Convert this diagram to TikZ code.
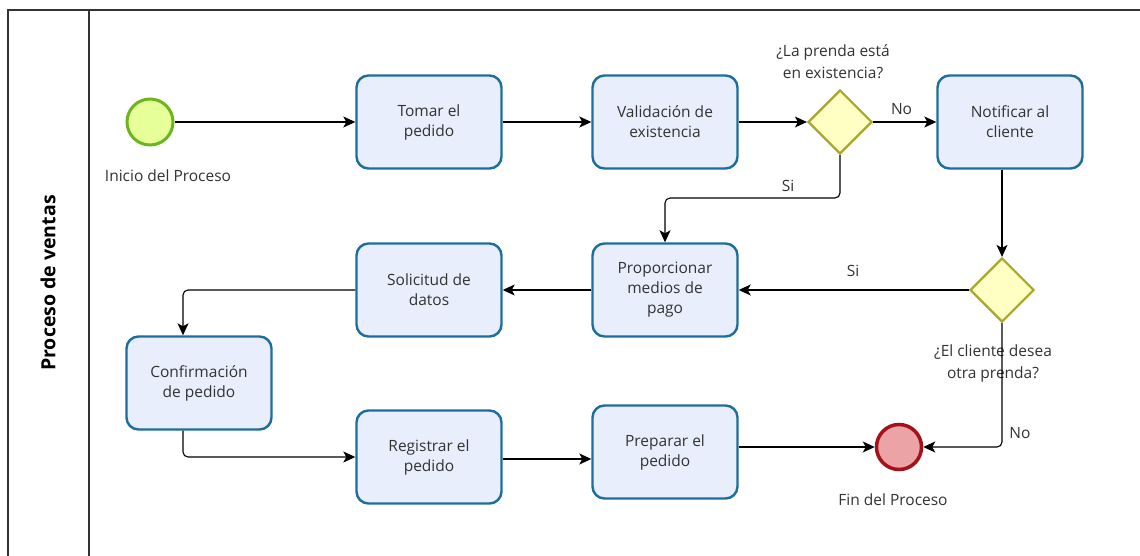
\documentclass[tikz,border=0pt]{standalone}
\usepackage{fontspec}
\setmainfont{Open Sans}
\usetikzlibrary{arrows.meta,shapes.geometric}
\definecolor{taskborder}{HTML}{1D6E9E}
\definecolor{taskfill}{HTML}{E8EEFB}
\definecolor{txt}{HTML}{333333}
\definecolor{startfill}{HTML}{E6FF99}
\definecolor{startborder}{HTML}{6DB51F}
\definecolor{endfill}{HTML}{EBA3A6}
\definecolor{endborder}{HTML}{A5111A}
\definecolor{gwfill}{HTML}{FFFFC4}
\definecolor{gwborder}{HTML}{A8A72C}
\definecolor{framecol}{HTML}{333333}
\begin{document}
\begin{tikzpicture}[x=1pt,y=-1pt,
  task/.style={draw=taskborder, line width=2.4pt, fill=taskfill, rounded corners=12pt,
    minimum width=145pt, minimum height=93pt, align=center, text=txt,
    font=\fontsize{15.5}{20}\selectfont, inner sep=0pt},
  gate/.style={diamond, draw=gwborder, line width=2.2pt, fill=gwfill, minimum width=64pt,
    minimum height=64pt, inner sep=0pt},
  evstart/.style={circle, draw=startborder, line width=3pt, fill=startfill, minimum size=46pt, inner sep=0pt},
  evend/.style={circle, draw=endborder, line width=3.5pt, fill=endfill, minimum size=45pt, inner sep=0pt},
  lbl/.style={text=txt, font=\fontsize{15.5}{22}\selectfont, align=center, inner sep=0pt},
  flow/.style={draw=black, line width=1.1pt, -{Stealth[length=12pt,width=11pt,inset=3pt]}, rounded corners=5pt},
  frame/.style={draw=framecol, line width=1.3pt}
]
\useasboundingbox (0,0) rectangle (1140,556);
\fill[white] (0,0) rectangle (1140,556);
% frame
\draw[frame] (8,556) -- (8,10) -- (1140,10);
\draw[frame] (89,10) -- (89,556);
\node[rotate=90, text=black, font=\fontsize{19.5}{22}\bfseries\selectfont] (lane) at (48,283) {Proceso de ventas};

% nodes
\node[evstart] (start) at (150,122) {};
\node[lbl] (startlbl) at (168,176) {Inicio del Proceso};
\node[task] (tomar) at (429,122) {Tomar el\\pedido};
\node[task] (valid) at (665,122) {Validación de\\existencia};
\node[gate] (d1) at (840,122) {};
\node[lbl] (d1lbl) at (833,62) {¿La prenda está\\en existencia?};
\node[task] (notif) at (1010,122) {Notificar al\\cliente};
\node[gate] (d2) at (1002,290) {};
\node[lbl] (d2lbl) at (993,363) {¿El cliente desea\\otra prenda?};
\node[task] (prop) at (665,290) {Proporcionar\\medios de\\pago};
\node[task] (sol) at (429,290) {Solicitud de\\datos};
\node[task] (conf) at (199,383) {Confirmación\\de pedido};
\node[task] (reg) at (429,457) {Registrar el\\pedido};
\node[task] (prep) at (665,452) {Preparar el\\pedido};
\node[evend] (fin) at (899,447) {};
\node[lbl] (finlbl) at (893,500) {Fin del Proceso};

% helper coordinates
\coordinate (k1) at (840,198);
\coordinate (k2) at (183,290);
\coordinate (k3) at (183,457);

% connectors
\draw[flow] (start) -- (tomar);
\draw[flow] (tomar) -- (valid);
\draw[flow] (valid) -- (d1);
\draw[flow] (d1) -- node[lbl, above=7pt, pos=0.45] (no1) {No} (notif);
\draw[flow] (notif.south -| d2.north) -- (d2.north);
\draw[flow] (d1.south) -- (k1) -- (k1 -| prop.north) -- (prop.north);
\node[lbl] (si1) at (788,186) {Si};
\draw[flow] (d2.west) -- (prop.east);
\node[lbl] (si2) at (853,271) {Si};
\draw[flow] (prop.west) -- (sol.east);
\draw[flow] (sol.west) -- (k2) -- (k2 |- conf.north);
\draw[flow] (k2 |- conf.south) -- (k3) -- (reg.west);
\draw[flow] ([yshift=-2pt]reg.east) -- ([yshift=-2pt]reg.east -| prep.west);
\draw[flow] (prep.east |- fin) -- (fin.west);
\draw[flow] (d2.south) -- (d2.south |- fin) -- (fin.east);
\node[lbl] (no2) at (1020,433) {No};
\end{tikzpicture}
\end{document}
